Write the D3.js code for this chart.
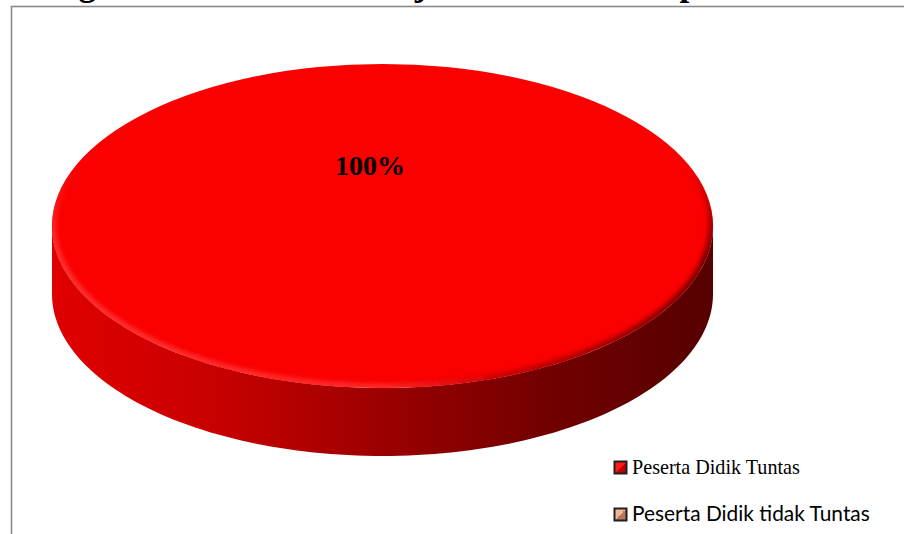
<!DOCTYPE html>
<html>
<head>
<meta charset="utf-8">
<script src="https://cdn.jsdelivr.net/npm/d3@7"></script>
<style>
html,body{margin:0;padding:0;background:#fff;overflow:hidden;}
svg{display:block;}
</style>
</head>
<body>
<svg id="chart" width="904" height="534"></svg>
<script>
// ---- data ----
const titleText = "Diagram Ketuntasan Belajar Peserta Didik pada Siklus I";
const categories = ["Peserta Didik Tuntas", "Peserta Didik tidak Tuntas"];
const values = [100, 0];
const labels = ["100%", "0%"];

// ---- layout ----
const W = 904, H = 534;
const cx = 382.5, cy = 226, rx = 330.5, ry = 162, depth = 68;

const svg = d3.select("#chart");
const defs = svg.append("defs");

// gradients
const sideGrad = defs.append("linearGradient").attr("id","sideGrad")
  .attr("gradientUnits","userSpaceOnUse")
  .attr("x1", cx - rx).attr("x2", cx + rx).attr("y1",0).attr("y2",0);
[[0,"#e00000"],[0.25,"#c80000"],[0.5,"#9c0000"],[0.75,"#720000"],[1,"#560000"]]
  .forEach(([o,c]) => sideGrad.append("stop").attr("offset",o).attr("stop-color",c));

const rimGrad = defs.append("linearGradient").attr("id","rimGrad")
  .attr("gradientUnits","userSpaceOnUse")
  .attr("x1", cx - rx).attr("x2", cx + rx).attr("y1",0).attr("y2",0);
[[0,"#ff3a3a"],[0.5,"#ff3030"],[0.68,"#c00000"],[1,"#5a0000"]]
  .forEach(([o,c]) => rimGrad.append("stop").attr("offset",o).attr("stop-color",c));

defs.append("filter").attr("id","blur").attr("x","-10%").attr("y","-10%").attr("width","120%").attr("height","120%")
  .append("feGaussianBlur").attr("stdDeviation",2.2);

defs.append("clipPath").attr("id","topClip")
  .append("ellipse").attr("cx",cx).attr("cy",cy).attr("rx",rx).attr("ry",ry);

// vertical mask so rim shading only shows on the front half
const maskGrad = defs.append("linearGradient").attr("id","maskGrad")
  .attr("gradientUnits","userSpaceOnUse")
  .attr("x1",0).attr("x2",0).attr("y1", cy - 60).attr("y2", cy + 30);
maskGrad.append("stop").attr("offset",0).attr("stop-color","#000");
maskGrad.append("stop").attr("offset",1).attr("stop-color","#fff");
defs.append("mask").attr("id","rimMask").attr("maskUnits","userSpaceOnUse")
  .attr("x",0).attr("y",0).attr("width",W).attr("height",H)
  .append("rect").attr("x",0).attr("y",0).attr("width",W).attr("height",H)
  .attr("fill","url(#maskGrad)");

// legend icon gradients
function iconGrad(id, c1, c2){
  const g = defs.append("linearGradient").attr("id",id)
    .attr("x1","0").attr("y1","0").attr("x2","1").attr("y2","1");
  g.append("stop").attr("offset",0).attr("stop-color",c1);
  g.append("stop").attr("offset",0.5).attr("stop-color",c1);
  g.append("stop").attr("offset",0.5).attr("stop-color",c2);
  g.append("stop").attr("offset",1).attr("stop-color",c2);
}
iconGrad("ic0","#ff1a1a","#c00000");
iconGrad("ic1","#f0b898","#b87858");

// ---- title (cut off at top, as in the reference) ----
svg.append("text")
  .attr("x", 26).attr("y", -5)
  .attr("font-family","'Liberation Serif', 'Times New Roman', serif")
  .attr("font-weight","bold").attr("font-size", 35)
  .attr("fill","#000")
  .text(titleText);

// ---- frame ----
svg.append("rect").attr("x",11.5).attr("y",6.5).attr("width",1200).attr("height",1200)
  .attr("fill","none").attr("stroke","#8a8a8a").attr("stroke-width",1.6);

// ---- pie ----
const pie = d3.pie().sort(null).value(d => d);
const arcs = pie(values);

const ex = a => cx + rx * Math.sin(a);
const ey = a => cy - ry * Math.cos(a);

// side walls (front visible portion)
arcs.forEach((a, i) => {
  if (a.endAngle - a.startAngle <= 0) return;
  const s = Math.max(a.startAngle, Math.PI/2), e = Math.min(a.endAngle, 3*Math.PI/2);
  if (e <= s) return;
  const n = 120;
  const angs = d3.range(n+1).map(k => s + (e - s) * k / n);
  const top = angs.map(t => [ex(t), ey(t)]);
  const bot = angs.slice().reverse().map(t => [ex(t), ey(t) + depth]);
  svg.append("path")
    .attr("d", d3.line()(top.concat(bot)) + "Z")
    .attr("fill", i === 0 ? "url(#sideGrad)" : "#b87858");
});

// top faces
const arcGen = d3.arc().innerRadius(0).outerRadius(rx);
const topG = svg.append("g");
arcs.forEach((a, i) => {
  if (a.endAngle - a.startAngle <= 0) return;
  topG.append("path")
    .attr("d", arcGen(a))
    .attr("transform", `translate(${cx},${cy}) scale(1,${ry/rx})`)
    .attr("fill", i === 0 ? "#fa0000" : "#e0a080");
});

// rim shading (front half only)
svg.append("g").attr("clip-path","url(#topClip)").attr("mask","url(#rimMask)")
  .append("ellipse").attr("cx",cx).attr("cy",cy).attr("rx",rx - 1).attr("ry",ry - 1)
  .attr("fill","none").attr("stroke","url(#rimGrad)").attr("stroke-width",7)
  .attr("filter","url(#blur)").attr("opacity",0.85);

// label
arcs.forEach((a, i) => {
  if (a.value <= 0) return;
  svg.append("text")
    .attr("x", 370).attr("y", 175)
    .attr("text-anchor","middle")
    .attr("font-family","'Liberation Serif', 'Times New Roman', serif")
    .attr("font-weight","bold").attr("font-size", 28)
    .attr("fill","#000")
    .text(labels[i]);
});

// ---- legend ----
const legendY = [468, 515];
const legendFonts = ["'Liberation Serif', 'Times New Roman', serif", "Lato, 'Open Sans', sans-serif"];
const legendWidths = [168, 238];
categories.forEach((c, i) => {
  const g = svg.append("g").attr("transform", `translate(613,${legendY[i]})`);
  g.append("rect").attr("x",0.5).attr("y",-7.5).attr("width",14).attr("height",14)
    .attr("fill","#202020");
  g.append("rect").attr("x",2.5).attr("y",-5.5).attr("width",10).attr("height",10)
    .attr("fill",`url(#ic${i})`);
  const t = g.append("text").attr("x",19).attr("y",6)
    .attr("font-family", legendFonts[i]).attr("font-size", 20).attr("fill","#000")
    .text(c);
  const len = t.node().getComputedTextLength();
  if (len > 0) t.attr("font-size", 20 * legendWidths[i] / len);
});
</script>
</body>
</html>
